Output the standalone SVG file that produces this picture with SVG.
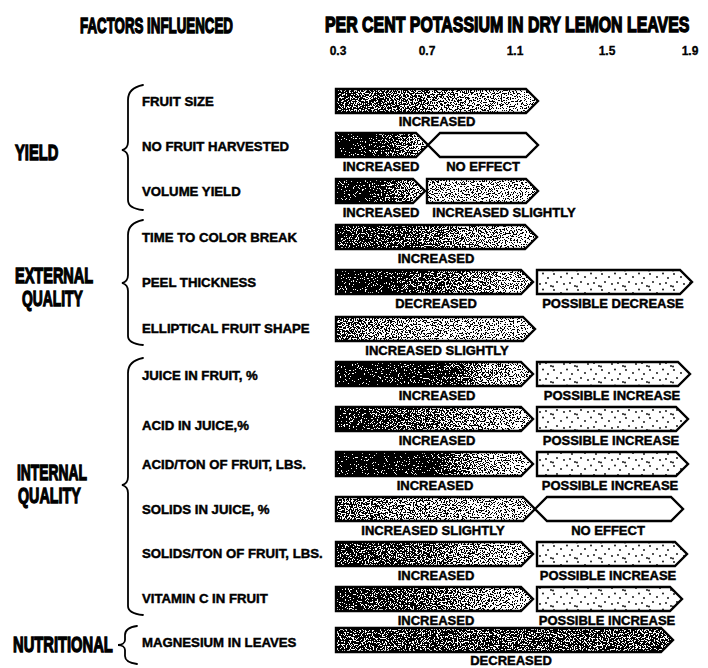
<svg xmlns="http://www.w3.org/2000/svg" width="708" height="668" viewBox="0 0 708 668">
<style>
  .hd { font-family: "Liberation Sans", Arial, sans-serif; font-weight: bold; font-size: 21.5px; fill: #000; stroke: #000; stroke-width: 1.4; }
  .grp { font-family: "Liberation Sans", Arial, sans-serif; font-weight: bold; font-size: 22px; fill: #000; stroke: #000; stroke-width: 1.3; }
  .ax { font-family: "Liberation Sans", Arial, sans-serif; font-weight: bold; font-size: 12px; fill: #000; text-anchor: middle; stroke: #000; stroke-width: 0.3; }
  .it { font-family: "Liberation Sans", Arial, sans-serif; font-weight: bold; font-size: 13.2px; fill: #000; stroke: #000; stroke-width: 0.45; }
  .lb { font-family: "Liberation Sans", Arial, sans-serif; font-weight: bold; font-size: 13px; fill: #000; text-anchor: middle; stroke: #000; stroke-width: 0.45; }
  .ol { fill: none; stroke: #000; stroke-width: 2.4; stroke-linejoin: miter; }
  .olw { fill: #fff; stroke: #000; stroke-width: 2.4; stroke-linejoin: miter; }
  .ols { fill: url(#sp); stroke: #000; stroke-width: 2.4; stroke-linejoin: miter; }
  .br { fill: none; stroke: #000; stroke-width: 1.8; stroke-linecap: round; }
</style>
<defs>
  <filter id="st" x="0" y="0" width="1" height="1" color-interpolation-filters="sRGB">
    <feTurbulence type="fractalNoise" baseFrequency="0.75" numOctaves="2" seed="7" result="n"/>
    <feColorMatrix in="n" type="matrix" values="1 0 0 0 0  1 0 0 0 0  1 0 0 0 0  0 0 0 0 1" result="g"/>
    <feComponentTransfer in="g" result="s">
      <feFuncR type="linear" slope="3" intercept="-1"/>
      <feFuncG type="linear" slope="3" intercept="-1"/>
      <feFuncB type="linear" slope="3" intercept="-1"/>
    </feComponentTransfer>
    <feComposite in="SourceGraphic" in2="s" operator="arithmetic" k1="0" k2="1" k3="1" k4="-0.5" result="sum"/>
    <feComponentTransfer in="sum" result="th">
      <feFuncR type="discrete" tableValues="0 1"/>
      <feFuncG type="discrete" tableValues="0 1"/>
      <feFuncB type="discrete" tableValues="0 1"/>
      <feFuncA type="linear" slope="0" intercept="1"/>
    </feComponentTransfer>
    <feComposite in="th" in2="SourceAlpha" operator="in"/>
  </filter>
  <pattern id="sp" width="24" height="16" patternUnits="userSpaceOnUse">
    <rect width="24" height="16" fill="#fff"/>
    <circle cx="2" cy="2" r="0.9" fill="#000"/>
    <circle cx="9" cy="5" r="0.9" fill="#000"/>
    <circle cx="15" cy="1.5" r="0.9" fill="#000"/>
    <circle cx="20" cy="6" r="0.9" fill="#000"/>
    <circle cx="5" cy="10" r="0.9" fill="#000"/>
    <circle cx="12" cy="12" r="0.9" fill="#000"/>
    <circle cx="18" cy="11" r="0.9" fill="#000"/>
    <circle cx="23" cy="14" r="0.9" fill="#000"/>
    <circle cx="1" cy="14.5" r="0.9" fill="#000"/>
  </pattern>
  <linearGradient id="g1"><stop offset="0" stop-color="#505050"/><stop offset="0.35" stop-color="#707070"/><stop offset="1" stop-color="#b8b8b8"/></linearGradient>
  <linearGradient id="g2"><stop offset="0" stop-color="#000"/><stop offset="0.35" stop-color="#000"/><stop offset="1" stop-color="#a8a8a8"/></linearGradient>
  <linearGradient id="g3"><stop offset="0" stop-color="#000"/><stop offset="0.35" stop-color="#080808"/><stop offset="1" stop-color="#b0b0b0"/></linearGradient>
  <linearGradient id="gm"><stop offset="0" stop-color="#acacac"/><stop offset="1" stop-color="#b8b8b8"/></linearGradient>
  <linearGradient id="g4"><stop offset="0" stop-color="#2a2a2a"/><stop offset="0.3" stop-color="#4a4a4a"/><stop offset="1" stop-color="#c0c0c0"/></linearGradient>
  <linearGradient id="g5"><stop offset="0" stop-color="#000"/><stop offset="0.3" stop-color="#282828"/><stop offset="1" stop-color="#c4c4c4"/></linearGradient>
  <linearGradient id="g6"><stop offset="0" stop-color="#6a6a6a"/><stop offset="0.3" stop-color="#909090"/><stop offset="1" stop-color="#c4c4c4"/></linearGradient>
  <linearGradient id="g7"><stop offset="0" stop-color="#000"/><stop offset="0.55" stop-color="#222"/><stop offset="0.72" stop-color="#808080"/><stop offset="1" stop-color="#c8c8c8"/></linearGradient>
  <linearGradient id="g8"><stop offset="0" stop-color="#141414"/><stop offset="0.3" stop-color="#4a4a4a"/><stop offset="1" stop-color="#c8c8c8"/></linearGradient>
  <linearGradient id="g9"><stop offset="0" stop-color="#000"/><stop offset="0.45" stop-color="#000"/><stop offset="0.7" stop-color="#909090"/><stop offset="1" stop-color="#cccccc"/></linearGradient>
  <linearGradient id="g10"><stop offset="0" stop-color="#6a6a6a"/><stop offset="1" stop-color="#c0c0c0"/></linearGradient>
  <linearGradient id="g11"><stop offset="0" stop-color="#383838"/><stop offset="0.4" stop-color="#5a5a5a"/><stop offset="1" stop-color="#c4c4c4"/></linearGradient>
  <linearGradient id="g12"><stop offset="0" stop-color="#141414"/><stop offset="0.35" stop-color="#4a4a4a"/><stop offset="1" stop-color="#c4c4c4"/></linearGradient>
  <linearGradient id="g13"><stop offset="0" stop-color="#4e4e4e"/><stop offset="1" stop-color="#585858"/></linearGradient>
</defs>
<rect width="708" height="668" fill="#fff"/>

<g id="header">
  <text class="hd" transform="translate(80,33) scale(0.62,1)">FACTORS INFLUENCED</text>
  <text class="hd" transform="translate(325,32) scale(0.74,1)">PER CENT POTASSIUM IN DRY LEMON LEAVES</text>
  <text class="ax" x="338" y="55">0.3</text>
  <text class="ax" x="427" y="55">0.7</text>
  <text class="ax" x="515" y="55">1.1</text>
  <text class="ax" x="607" y="55">1.5</text>
  <text class="ax" x="690" y="55">1.9</text>
</g>

<g id="groups">
  <text class="grp" transform="translate(15,160) scale(0.67,1)">YIELD</text>
  <text class="grp" transform="translate(15,283) scale(0.66,1)">EXTERNAL</text>
  <text class="grp" transform="translate(22,306) scale(0.63,1)">QUALITY</text>
  <text class="grp" transform="translate(17,480) scale(0.63,1)">INTERNAL</text>
  <text class="grp" transform="translate(18,503) scale(0.65,1)">QUALITY</text>
  <text class="grp" transform="translate(13,652) scale(0.67,1)">NUTRITIONAL</text>
</g>

<g id="connectors">
  <path class="br" d="M143,85 C133,87 128,92 128,100 L128,142 C128,146 126,149 122,150 C126,151 128,154 128,158 L128,200 C128,206 133,209 143,210"/>
  <path class="br" d="M143,220 C133,222 128,227 128,235 L128,275 C128,279 126,282 122,283 C126,284 128,287 128,291 L128,336 C128,341 133,344 143,345"/>
  <path class="br" d="M143,358 C133,360 128,365 128,373 L128,477 C128,481 126,484 122,485 C126,486 128,489 128,493 L128,606 C128,611 133,614 143,615"/>
  <path class="br" d="M137,626 C130,627 125,630 125,635 L125,640 C125,643 122,645 118,645 C122,645 125,647 125,650 L125,656 C125,660 130,663 137,664"/>
</g>

<g id="row1">
  <text class="it" x="142" y="106">FRUIT SIZE</text>
  <path filter="url(#st)" fill="url(#g1)" d="M336,89 L526,89 L538,101 L526,113 L336,113 Z"/>
  <path class="ol" d="M336,89 L526,89 L538,101 L526,113 L336,113 Z"/>
  <text class="lb" x="437" y="126">INCREASED</text>
</g>

<g id="row2">
  <text class="it" x="142" y="151">NO FRUIT HARVESTED</text>
  <path filter="url(#st)" fill="url(#g2)" d="M336,133 L416,133 L428,145 L416,157 L336,157 Z"/>
  <path class="ol" d="M336,133 L416,133 L428,145 L416,157 L336,157 Z"/>
  <path class="olw" d="M428,145 L440,133 L526,133 L538,145 L526,157 L440,157 Z"/>
  <text class="lb" x="381" y="171">INCREASED</text>
  <text class="lb" x="483" y="171">NO EFFECT</text>
</g>

<g id="row3">
  <text class="it" x="142" y="196">VOLUME YIELD</text>
  <path filter="url(#st)" fill="url(#g3)" d="M336,179 L413,179 L425,191 L413,203 L336,203 Z"/>
  <path class="ol" d="M336,179 L413,179 L425,191 L413,203 L336,203 Z"/>
  <path filter="url(#st)" fill="url(#gm)" d="M427,179 L526,179 L538,191 L526,203 L427,203 Z"/>
  <path class="ol" d="M427,179 L526,179 L538,191 L526,203 L427,203 Z"/>
  <text class="lb" x="381" y="217">INCREASED</text>
  <text class="lb" x="504" y="217">INCREASED SLIGHTLY</text>
</g>

<g id="row4">
  <text class="it" x="142" y="242">TIME TO COLOR BREAK</text>
  <path filter="url(#st)" fill="url(#g4)" d="M336,225 L525,225 L537,237 L525,249 L336,249 Z"/>
  <path class="ol" d="M336,225 L525,225 L537,237 L525,249 L336,249 Z"/>
  <text class="lb" x="436" y="263">INCREASED</text>
</g>

<g id="row5">
  <text class="it" x="142" y="287">PEEL THICKNESS</text>
  <path filter="url(#st)" fill="url(#g5)" d="M336,270 L521,270 L533,282 L521,294 L336,294 Z"/>
  <path class="ol" d="M336,270 L521,270 L533,282 L521,294 L336,294 Z"/>
  <path class="ols" d="M537,270 L680,270 L692,282 L680,294 L537,294 Z"/>
  <text class="lb" x="436" y="308">DECREASED</text>
  <text class="lb" x="613" y="308">POSSIBLE DECREASE</text>
</g>

<g id="row6">
  <text class="it" x="142" y="333">ELLIPTICAL FRUIT SHAPE</text>
  <path filter="url(#st)" fill="url(#g6)" d="M336,317 L523,317 L535,329 L523,341 L336,341 Z"/>
  <path class="ol" d="M336,317 L523,317 L535,329 L523,341 L336,341 Z"/>
  <text class="lb" x="437" y="355">INCREASED SLIGHTLY</text>
</g>

<g id="row7">
  <text class="it" x="142" y="380">JUICE IN FRUIT, %</text>
  <path filter="url(#st)" fill="url(#g7)" d="M336,362 L521,362 L533,374 L521,386 L336,386 Z"/>
  <path class="ol" d="M336,362 L521,362 L533,374 L521,386 L336,386 Z"/>
  <path class="ols" d="M537,362 L678,362 L690,374 L678,386 L537,386 Z"/>
  <text class="lb" x="437" y="400">INCREASED</text>
  <text class="lb" x="612" y="400">POSSIBLE INCREASE</text>
</g>

<g id="row8">
  <text class="it" x="142" y="430">ACID IN JUICE,%</text>
  <path filter="url(#st)" fill="url(#g8)" d="M336,407 L521,407 L533,419 L521,431 L336,431 Z"/>
  <path class="ol" d="M336,407 L521,407 L533,419 L521,431 L336,431 Z"/>
  <path class="ols" d="M537,407 L676,407 L688,419 L676,431 L537,431 Z"/>
  <text class="lb" x="437" y="445">INCREASED</text>
  <text class="lb" x="611" y="445">POSSIBLE INCREASE</text>
</g>

<g id="row9">
  <text class="it" x="142" y="469">ACID/TON OF FRUIT, LBS.</text>
  <path filter="url(#st)" fill="url(#g9)" d="M336,452 L521,452 L533,464 L521,476 L336,476 Z"/>
  <path class="ol" d="M336,452 L521,452 L533,464 L521,476 L336,476 Z"/>
  <path class="ols" d="M537,452 L676,452 L688,464 L676,476 L537,476 Z"/>
  <text class="lb" x="435" y="490">INCREASED</text>
  <text class="lb" x="610" y="490">POSSIBLE INCREASE</text>
</g>

<g id="row10">
  <text class="it" x="142" y="514">SOLIDS IN JUICE, %</text>
  <path filter="url(#st)" fill="url(#g10)" d="M336,497 L523,497 L535,509 L523,521 L336,521 Z"/>
  <path class="ol" d="M336,497 L523,497 L535,509 L523,521 L336,521 Z"/>
  <path class="olw" d="M535,509 L547,497 L671,497 L683,509 L671,521 L547,521 Z"/>
  <text class="lb" x="433" y="535">INCREASED SLIGHTLY</text>
  <text class="lb" x="608" y="535">NO EFFECT</text>
</g>

<g id="row11">
  <text class="it" x="142" y="558">SOLIDS/TON OF FRUIT, LBS.</text>
  <path filter="url(#st)" fill="url(#g11)" d="M336,542 L521,542 L533,554 L521,566 L336,566 Z"/>
  <path class="ol" d="M336,542 L521,542 L533,554 L521,566 L336,566 Z"/>
  <path class="ols" d="M537,542 L675,542 L687,554 L675,566 L537,566 Z"/>
  <text class="lb" x="436" y="580">INCREASED</text>
  <text class="lb" x="608" y="580">POSSIBLE INCREASE</text>
</g>

<g id="row12">
  <text class="it" x="142" y="603">VITAMIN C IN FRUIT</text>
  <path filter="url(#st)" fill="url(#g12)" d="M336,587 L521,587 L533,599 L521,611 L336,611 Z"/>
  <path class="ol" d="M336,587 L521,587 L533,599 L521,611 L336,611 Z"/>
  <path class="ols" d="M537,587 L670,587 L682,599 L670,611 L537,611 Z"/>
  <text class="lb" x="436" y="625">INCREASED</text>
  <text class="lb" x="607" y="625">POSSIBLE INCREASE</text>
</g>

<g id="row13">
  <text class="it" x="142" y="647">MAGNESIUM IN LEAVES</text>
  <path filter="url(#st)" fill="url(#g13)" d="M336,628 L661,628 L673,640 L661,652 L336,652 Z"/>
  <path class="ol" d="M336,628 L661,628 L673,640 L661,652 L336,652 Z"/>
  <text class="lb" x="511" y="665">DECREASED</text>
</g>
</svg>
